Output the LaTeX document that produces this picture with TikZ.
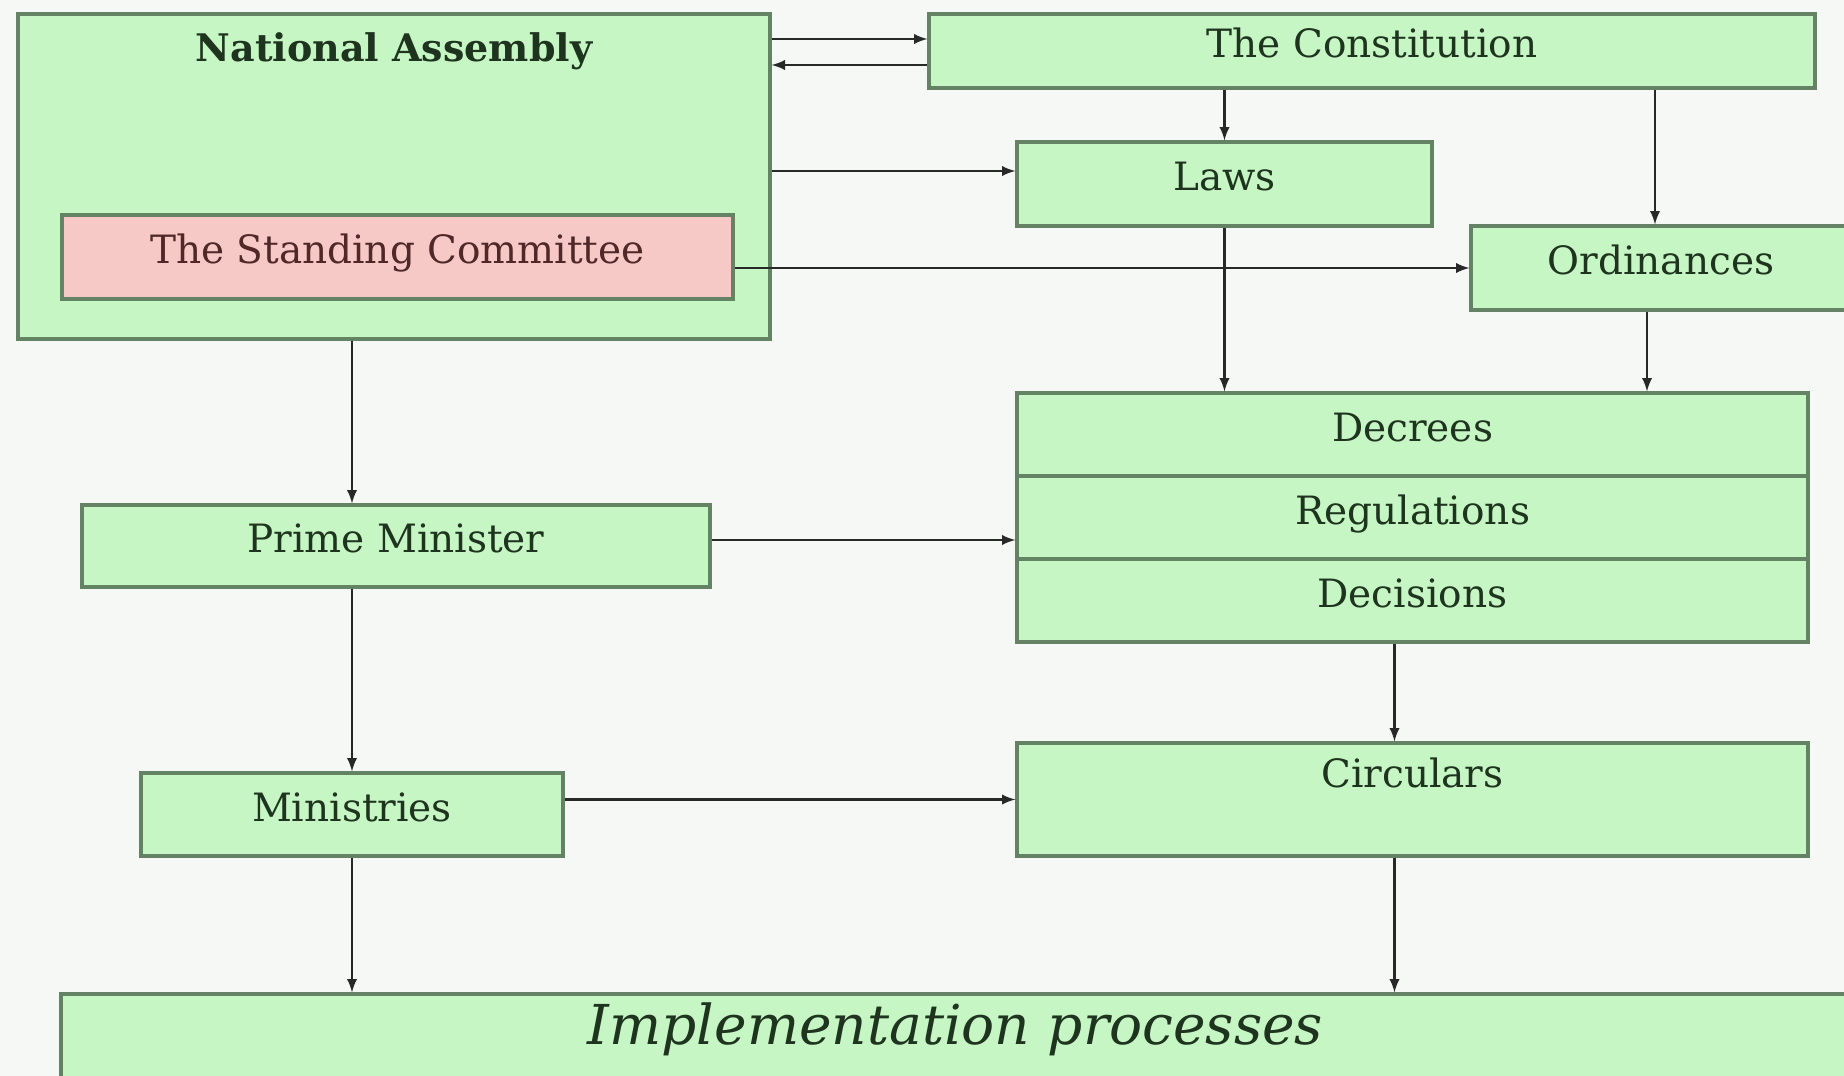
\documentclass[tikz,border=0pt]{standalone}
\usepackage{fontspec}
\setmainfont{DejaVu Serif}
\usetikzlibrary{calc}
\definecolor{bgcol}{RGB}{246,248,246}
\definecolor{boxgreen}{RGB}{198,246,196}
\definecolor{boxpink}{RGB}{246,200,198}
\definecolor{boxline}{RGB}{100,130,100}
\definecolor{boxtext}{RGB}{30,52,30}
\definecolor{pinktext}{RGB}{80,40,40}
\definecolor{linecol}{RGB}{40,40,40}

\begin{document}
\begin{tikzpicture}[x=0.5pt, y=-0.5pt, >=latex, font=\fontsize{19.5}{23}\selectfont,
block/.style={rectangle, draw=boxline, fill=boxgreen, line width=1.6pt, inner sep=0pt,
      text=boxtext, text height=0.8em, text depth=0.15em},
redblock/.style={block, fill=boxpink, text=pinktext},
link/.style={->, draw=linecol, line width=1.3pt}]
 \fill[bgcol] (0,0) rectangle (1844,1076);
 \useasboundingbox (0,0) rectangle (1844,1076);

 \node[block, minimum width=376pt, minimum height=162.5pt,
   label={[anchor=center, yshift=-19.5pt, text=boxtext, font=\fontsize{19}{23}\selectfont\bfseries]north:National Assembly}] (assembly) at (394,176.5) {};
 \node[redblock, minimum width=335.5pt, minimum height=42pt] (committee) at (397.5,257) {The Standing Committee};
 \node[block, minimum width=443pt, minimum height=37pt] (constitution) at (1372,51) {The Constitution};
 \node[block, minimum width=207.5pt, minimum height=42pt] (laws) at (1224.5,184) {Laws};
 \node[block, minimum width=190pt, minimum height=42pt] (ordinances) at (1661,268) {Ordinances};
 \node[block, minimum width=395.5pt, minimum height=41.5pt] (decrees) at (1412.5,434.5) {Decrees};
 \node[block, below of=decrees, node distance=41.5pt, minimum width=395.5pt, minimum height=41.5pt] (regulations) {Regulations};
 \node[block, below of=regulations, node distance=41.5pt, minimum width=395.5pt, minimum height=41.5pt] (decisions) {Decisions};
 \node[block, below of=decisions, node distance=99.5pt, minimum width=395.5pt, minimum height=56.5pt, text depth=20pt] (circulars) {Circulars};
 \node[block, minimum width=314pt, minimum height=41pt] (pm) at (396,546) {Prime Minister};
 \node[block, minimum width=211pt, minimum height=41.5pt] (ministries) at (352,814.5) {Ministries};
 \node[block, minimum width=894.5pt, minimum height=44pt, font=\fontsize{27.5}{32}\selectfont\itshape] (implementation) at (955.5,1038) {Implementation processes};

 \draw[link] ([yshift=6pt]constitution.west -| assembly.east) -- ([yshift=6pt]constitution.west);
 \draw[link] ([yshift=-7pt]constitution.west) -- ([yshift=-7pt]constitution.west -| assembly.east);
 \draw[link] ([yshift=6.5pt]laws.west -| assembly.east) -- ([yshift=6.5pt]laws.west);
 \draw[link] (committee.east |- ordinances.west) -- (ordinances.west);
 \draw[link] (constitution.south -| laws.north) -- (laws.north);
 \draw[link] ([xshift=-3pt]constitution.south -| ordinances.north) -- ([xshift=-3pt]ordinances.north);
 \draw[link] (laws.south) -- (laws.south |- decrees.north);
 \draw[link] ([xshift=-7pt]ordinances.south) -- ([xshift=-7pt]ordinances.south |- decrees.north);
 \draw[link] (assembly.south -| ministries.north) -- (pm.north -| ministries.north);
 \draw[link] (pm.south -| ministries.north) -- (ministries.north);
 \draw[link] (ministries.south) -- (ministries.south |- implementation.north);
 \draw[link] ([yshift=3pt]pm.east) -- ([yshift=3pt]pm.east -| regulations.west);
 \draw[link] ([xshift=-9pt]decisions.south) -- ([xshift=-9pt]circulars.north);
 \draw[link] (ministries.east |- circulars.west) -- (circulars.west);
 \draw[link] ([xshift=-9pt]circulars.south) -- ([xshift=-9pt]circulars.south |- implementation.north);
\end{tikzpicture}
\end{document}
